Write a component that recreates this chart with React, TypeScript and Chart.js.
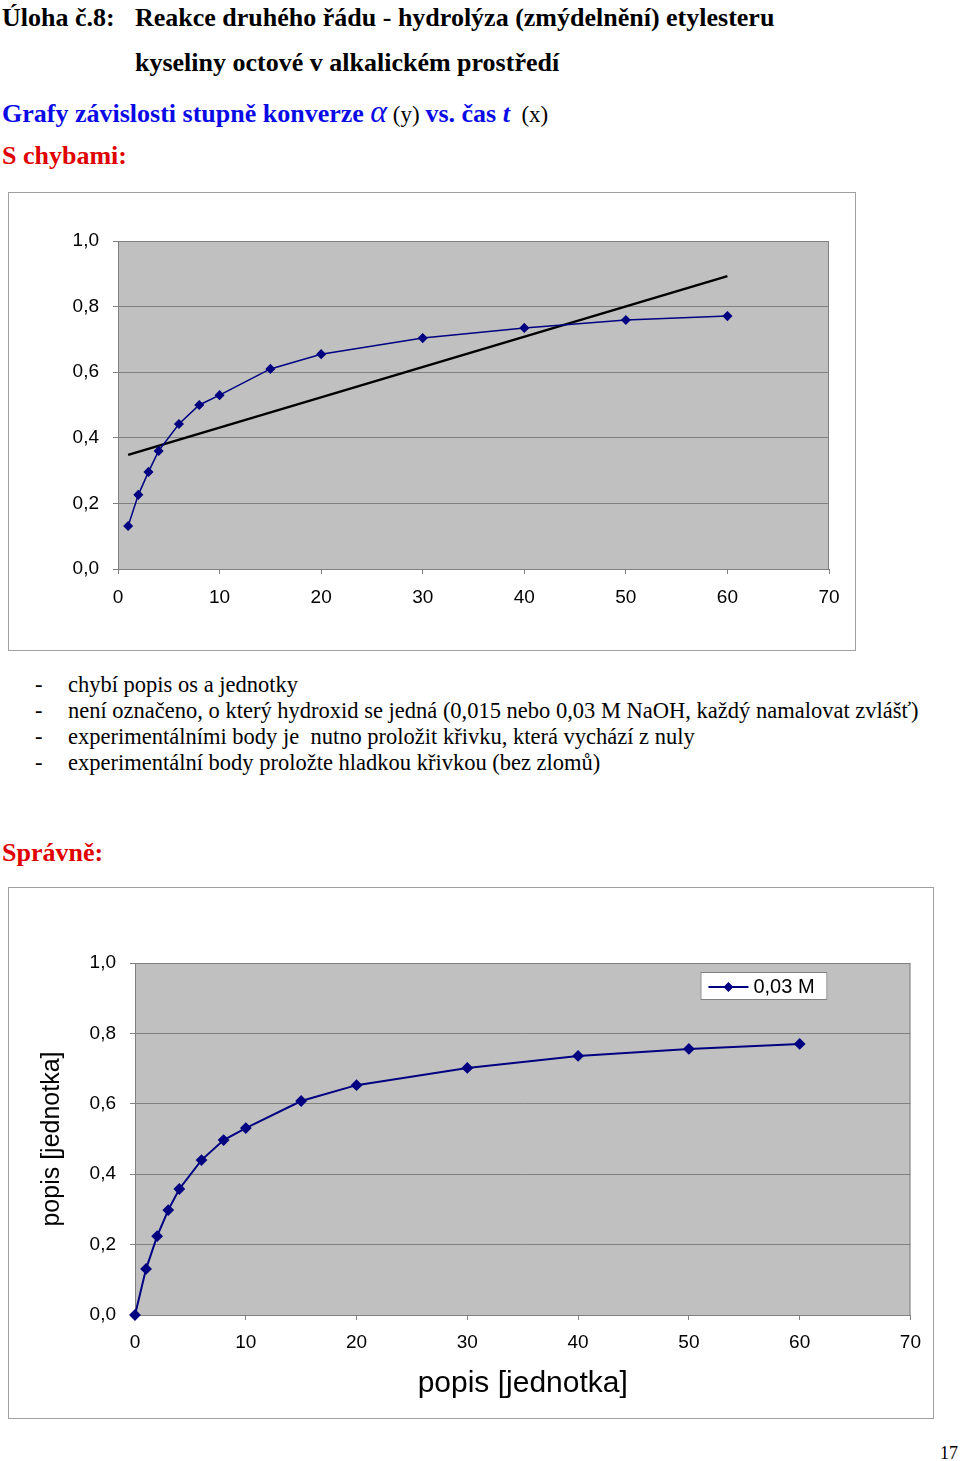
import React, { useEffect, useRef } from "react";
import { Chart, registerables } from "chart.js";

Chart.register(...registerables);

// ---- data ----
const times1 = [1, 2, 3, 4, 6, 8, 10, 15, 20, 30, 40, 50, 60];
const alpha1 = [0.131, 0.226, 0.296, 0.36, 0.442, 0.5, 0.53, 0.61, 0.655, 0.704, 0.735, 0.759, 0.771];
const trendTimes = [1, 60];
const trendAlpha = [0.348, 0.893];

const times2 = [0, 1, 2, 3, 4, 6, 8, 10, 15, 20, 30, 40, 50, 60];
const alpha2 = [0, 0.131, 0.224, 0.298, 0.358, 0.44, 0.497, 0.531, 0.608, 0.653, 0.702, 0.736, 0.756, 0.77];
const series2Label = "0,03 M";
const axisTitleX = "popis [jednotka]";
const axisTitleY = "popis [jednotka]";

const xMin = 0, xMax = 70, xStep = 10;
const yMin = 0, yMax = 1, yStep = 0.2;

const bullets = [
  "chybí popis os a jednotky",
  "není označeno, o který hydroxid se jedná (0,015 nebo 0,03 M NaOH, každý namalovat zvlášť)",
  "experimentálními body je  nutno proložit křivku, která vychází z nuly",
  "experimentální body proložte hladkou křivkou (bez zlomů)",
];

const NAVY = "#000080";
const GRAY = "#808080";
const SANS = "'Liberation Sans', Arial, sans-serif";
const SERIF = "'Liberation Serif', 'Times New Roman', serif";

const toXY = (xs: number[], ys: number[]) => xs.map((x, i) => ({ x, y: ys[i] }));

const plotBg = {
  id: "plotBg",
  beforeDraw(chart: any) {
    const { ctx, chartArea: a } = chart;
    ctx.save();
    ctx.fillStyle = "#c0c0c0";
    ctx.fillRect(a.left, a.top, a.right - a.left, a.bottom - a.top);
    ctx.restore();
  },
  beforeDatasetsDraw(chart: any) {
    const { ctx, chartArea: a } = chart;
    ctx.save();
    ctx.strokeStyle = GRAY;
    ctx.lineWidth = 1;
    ctx.strokeRect(a.left + 0.5, a.top + 0.5, a.right - a.left - 1, a.bottom - a.top);
    ctx.restore();
  },
};

const insideLegend = {
  id: "insideLegend",
  afterDraw(chart: any, _args: any, opts: any) {
    if (!opts || !opts.show) return;
    const { ctx, chartArea: a } = chart;
    const ds = chart.data.datasets[0];
    const w = 127, h = 28;
    const left = a.right - opts.right - w;
    const top = a.top + opts.top;
    ctx.save();
    ctx.fillStyle = "#ffffff";
    ctx.fillRect(left, top, w, h);
    ctx.strokeStyle = GRAY;
    ctx.lineWidth = 1;
    ctx.strokeRect(left + 0.5, top + 0.5, w - 1, h - 1);
    const cy = top + h / 2 + 1;
    ctx.strokeStyle = ds.borderColor;
    ctx.lineWidth = 2;
    ctx.beginPath();
    ctx.moveTo(left + 8, cy);
    ctx.lineTo(left + 48, cy);
    ctx.stroke();
    ctx.fillStyle = ds.pointBackgroundColor;
    ctx.beginPath();
    ctx.moveTo(left + 28, cy - 5);
    ctx.lineTo(left + 33, cy);
    ctx.lineTo(left + 28, cy + 5);
    ctx.lineTo(left + 23, cy);
    ctx.closePath();
    ctx.fill();
    ctx.fillStyle = "#000";
    ctx.font = `20px ${SANS}`;
    ctx.textBaseline = "middle";
    ctx.fillText(ds.label, left + 53, cy);
    ctx.restore();
  },
};

const fmt = (v: any) => Number(v).toFixed(1).replace(".", ",");

function makeScales(o: { yWidth: number; xHeight: number; xPad: number; titles: boolean }) {
  return {
    x: {
      type: "linear" as const,
      min: xMin,
      max: xMax,
      ticks: { stepSize: xStep, color: "#000", font: { family: SANS, size: 19 }, padding: o.xPad, maxRotation: 0 },
      grid: { drawOnChartArea: false, drawTicks: true, tickLength: 5, tickColor: GRAY },
      border: { display: true, color: GRAY, width: 1 },
      title: o.titles
        ? { display: true, text: axisTitleX, color: "#000", font: { family: SANS, size: 30 }, padding: { top: 0, bottom: 15 } }
        : { display: false },
      afterFit: (s: any) => { s.height = o.xHeight; },
    },
    y: {
      type: "linear" as const,
      min: yMin,
      max: yMax,
      ticks: { stepSize: yStep, color: "#000", font: { family: SANS, size: 19 }, padding: 14, callback: fmt },
      grid: { color: GRAY, lineWidth: 1, drawTicks: true, tickLength: 5, tickColor: GRAY },
      border: { display: true, color: GRAY, width: 1 },
      title: o.titles
        ? { display: true, text: axisTitleY, color: "#000", font: { family: SANS, size: 25 }, padding: { top: 28, bottom: 0 } }
        : { display: false },
      afterFit: (s: any) => { s.width = o.yWidth; },
    },
  };
}

function ChartOne() {
  const ref = useRef<HTMLCanvasElement>(null);
  useEffect(() => {
    const chart = new Chart(ref.current!, {
      type: "scatter",
      data: {
        datasets: [
          {
            label: "data",
            data: toXY(times1, alpha1),
            showLine: true,
            borderColor: NAVY,
            borderWidth: 1.5,
            pointStyle: "rectRot",
            pointRadius: 4,
            pointBackgroundColor: NAVY,
            pointBorderColor: NAVY,
            clip: false,
          },
          {
            label: "trend",
            data: toXY(trendTimes, trendAlpha),
            showLine: true,
            borderColor: "#000",
            borderWidth: 2.5,
            pointRadius: 0,
          },
        ],
      },
      options: {
        animation: false,
        responsive: false,
        maintainAspectRatio: false,
        layout: { padding: { left: 0, top: 48, right: 26, bottom: 0 } },
        plugins: { legend: { display: false }, tooltip: { enabled: false } },
        scales: makeScales({ yWidth: 109, xHeight: 81, xPad: 12, titles: false }) as any,
      },
      plugins: [plotBg],
    });
    return () => chart.destroy();
  }, []);
  return <canvas ref={ref} width={846} height={457} style={{ position: "absolute", left: 0, top: 0, width: 846, height: 457 }} />;
}

function ChartTwo() {
  const ref = useRef<HTMLCanvasElement>(null);
  useEffect(() => {
    const chart = new Chart(ref.current!, {
      type: "scatter",
      data: {
        datasets: [
          {
            label: series2Label,
            data: toXY(times2, alpha2),
            showLine: true,
            borderColor: NAVY,
            borderWidth: 2,
            pointStyle: "rectRot",
            pointRadius: 4.5,
            pointBackgroundColor: NAVY,
            pointBorderColor: NAVY,
            clip: false,
          },
        ],
      },
      options: {
        animation: false,
        responsive: false,
        maintainAspectRatio: false,
        layout: { padding: { left: 0, top: 75, right: 20, bottom: 0 } },
        plugins: {
          legend: { display: false },
          tooltip: { enabled: false },
          insideLegend: { show: true, right: 83, top: 9 },
        } as any,
        scales: makeScales({ yWidth: 126, xHeight: 102, xPad: 11, titles: true }) as any,
      },
      plugins: [plotBg, insideLegend],
    });
    return () => chart.destroy();
  }, []);
  return <canvas ref={ref} width={923} height={529} style={{ position: "absolute", left: 0, top: 0, width: 923, height: 529 }} />;
}

const abs = (left: number, top: number, extra: React.CSSProperties = {}): React.CSSProperties => ({
  position: "absolute",
  left,
  top,
  whiteSpace: "pre",
  margin: 0,
  ...extra,
});

export default function App() {
  const blue = "#0a0ae6";
  const red = "#e00000";
  const hStyle: React.CSSProperties = { fontFamily: SERIF, fontWeight: "bold", fontSize: 26, lineHeight: "28px", color: "#000" };
  const small: React.CSSProperties = { fontWeight: "normal", color: "#000", fontSize: 23 };
  return (
    <div style={{ position: "absolute", left: 0, top: 0, width: 960, height: 1461, overflow: "hidden", background: "#fff", fontFamily: SERIF }}>
      <div style={abs(2, 4, hStyle)}>Úloha č.8:</div>
      <div style={abs(135, 4, hStyle)}>Reakce druhého řádu - hydrolýza (zmýdelnění) etylesteru</div>
      <div style={abs(135, 49, hStyle)}>kyseliny octové v alkalickém prostředí</div>
      <div style={abs(2, 97, { ...hStyle, color: blue })}>
        <span>Grafy závislosti stupně konverze </span>
        <span style={{ fontStyle: "italic", fontWeight: "normal", fontSize: 32 }}>α</span>
        <span style={small}> (y) </span>
        <span>vs. čas </span>
        <span style={{ fontStyle: "italic" }}>t</span>
        <span style={small}>  (x)</span>
      </div>
      <div style={abs(2, 142, { ...hStyle, color: red })}>S chybami:</div>

      <div style={abs(8, 192, { width: 848, height: 459, boxSizing: "border-box", border: "1px solid #a0a0a0" })}>
        <ChartOne />
      </div>

      {bullets.map((b, i) => (
        <React.Fragment key={i}>
          <div style={abs(35, 672 + i * 26, { fontSize: 22.5, lineHeight: "26px", color: "#000" })}>-</div>
          <div style={abs(68, 672 + i * 26, { fontSize: 22.5, lineHeight: "26px", color: "#000" })}>{b}</div>
        </React.Fragment>
      ))}

      <div style={abs(2, 839, { ...hStyle, color: red })}>Správně:</div>

      <div style={abs(8, 887, { width: 926, height: 532, boxSizing: "border-box", border: "1px solid #a0a0a0" })}>
        <ChartTwo />
      </div>

      <div style={abs(940, 1442, { fontSize: 18, lineHeight: "22px", color: "#000" })}>17</div>
    </div>
  );
}
